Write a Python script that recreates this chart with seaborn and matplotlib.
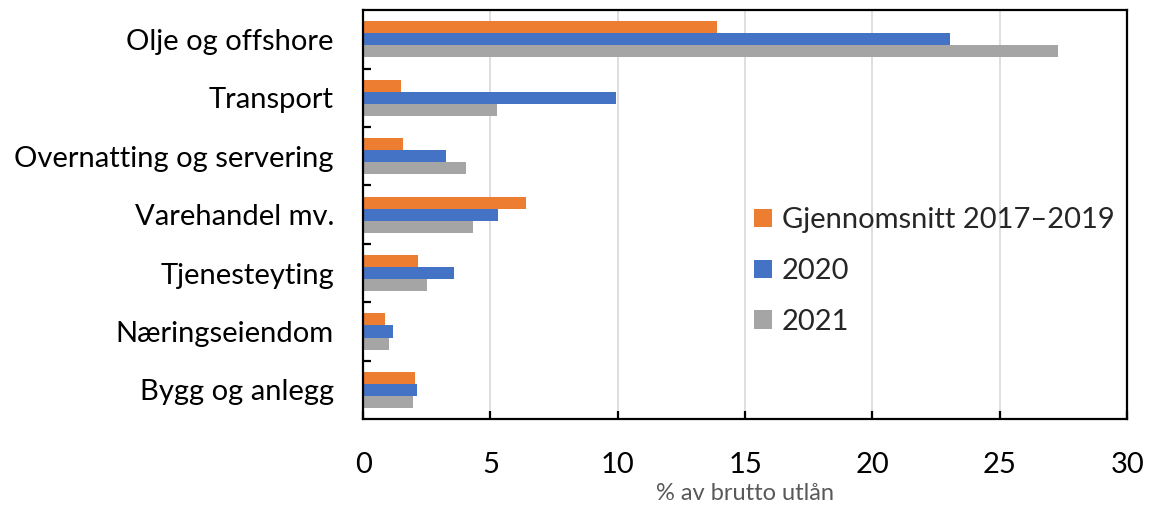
import matplotlib
matplotlib.use("Agg")
import matplotlib.pyplot as plt
from matplotlib.ticker import MultipleLocator, FixedLocator
import seaborn as sns
import pandas as pd

categories = ["Olje og offshore", "Transport", "Overnatting og servering",
              "Varehandel mv.", "Tjenesteyting", "Næringseiendom", "Bygg og anlegg"]
series = ["Gjennomsnitt 2017–2019", "2020", "2021"]
avg_2017_2019 = [13.9, 1.5, 1.55, 6.4, 2.15, 0.88, 2.02]
values_2020 = [23.05, 9.93, 3.26, 5.29, 3.57, 1.18, 2.13]
values_2021 = [27.3, 5.24, 4.03, 4.33, 2.51, 1.01, 1.96]
colors = ["#ED7D31", "#4472C4", "#A5A5A5"]

rows = []
for name, vals in zip(series, [avg_2017_2019, values_2020, values_2021]):
    for cat, v in zip(categories, vals):
        rows.append({"Kategori": cat, "Serie": name, "Verdi": v})
df = pd.DataFrame(rows)

sns.set_theme(style="white")
plt.rcParams["font.family"] = ["Lato", "DejaVu Sans"]

fig = plt.figure(figsize=(11.49, 5.05), dpi=100)
ax = fig.add_axes([0.316, 0.170, 0.665, 0.810])

sns.barplot(data=df, y="Kategori", x="Verdi", hue="Serie", order=categories,
            hue_order=series, palette=colors, width=0.62, orient="h",
            saturation=1, linewidth=0, ax=ax, errorbar=None)

ax.set_xlim(0, 30)
ax.set_ylim(len(categories) - 0.5, -0.5)
ax.xaxis.set_major_locator(MultipleLocator(5))
ax.grid(axis="x", color="#D9D9D9", linewidth=1.2)
ax.set_axisbelow(True)

for s in ax.spines.values():
    s.set_visible(True)
    s.set_color("black")
    s.set_linewidth(1.6)

# category labels at centres, tick marks at the boundaries
ax.tick_params(axis="y", which="major", length=0, pad=21, labelsize=21, labelcolor="black")
ax.yaxis.set_minor_locator(FixedLocator([i + 0.5 for i in range(len(categories) - 1)]))
ax.tick_params(axis="y", which="minor", left=True, direction="in", length=6, width=1.6, color="black")
ax.tick_params(axis="x", which="major", bottom=True, direction="in", length=6, width=1.6,
               color="black", pad=24, labelsize=21, labelcolor="black")

ax.set_ylabel("")
ax.set_xlabel("% av brutto utlån", fontsize=17, color="#595959", labelpad=3)

leg = ax.legend(loc="center left", bbox_to_anchor=(0.512, 0.362), frameon=False,
                fontsize=21, handlelength=0.6, handleheight=0.6, labelspacing=0.85,
                handletextpad=0.35, borderaxespad=0, borderpad=0)

fig.savefig("out.png", dpi=100)
